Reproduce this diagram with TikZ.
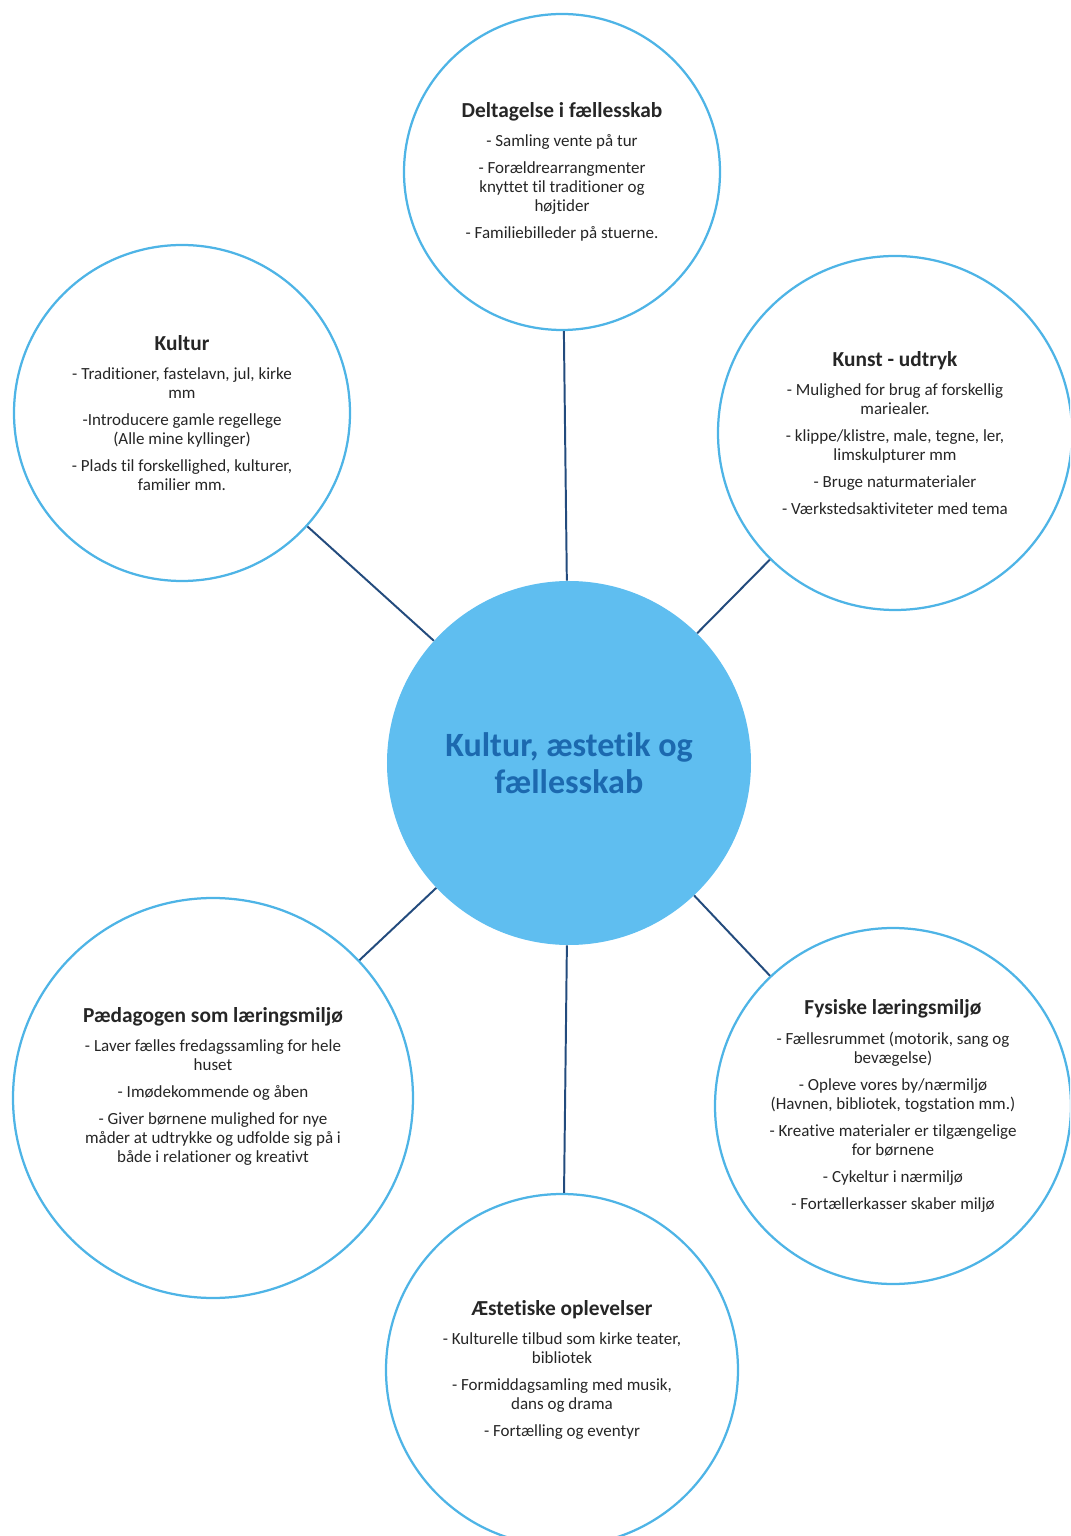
\documentclass[tikz,border=0pt]{standalone}
\usepackage{fontspec}
\setmainfont{Carlito}[Ligatures=CommonOff]
\definecolor{ringblue}{RGB}{78,180,230}
\definecolor{hubblue}{RGB}{95,190,240}
\definecolor{hubtext}{RGB}{28,105,175}
\definecolor{linkblue}{RGB}{35,75,125}
\newcommand{\ttl}[1]{{\bfseries\fontsize{15.2}{13.5}\selectfont #1}\\[7.5pt]}
\tikzset{
  topic/.style={circle,draw=ringblue,line width=1.6pt,fill=white,align=center,
    inner sep=0pt,text=black!85,font=\fontsize{12.1}{13.5}\selectfont},
  hub/.style={circle,fill=hubblue,text=hubtext,align=center,inner sep=0pt,
    minimum size=9.1cm,font=\bfseries\fontsize{24.2}{26.3}\selectfont},
  link/.style={draw=linkblue,line width=1.4pt}
}
\begin{document}
\begin{tikzpicture}
\useasboundingbox (-14.225,-19.325) rectangle (12.525,19.075);
\clip (-14.225,-19.325) rectangle (12.525,19.075);
\path
    (0,0) node [hub] (hub) {Kultur, æstetik og\\fællesskab}
    +(-0.175,14.775) node [topic,minimum size=7.9cm] (deltagelse)
        {\ttl{Deltagelse i fællesskab}
         - Samling vente på tur\\[5.7pt]
         - Forældrearrangmenter\\knyttet til traditioner og\\højtider\\[5.7pt]
         - Familiebilleder på stuerne.}
    +(-9.675,8.75) node [topic,minimum size=8.4cm] (kultur)
        {\ttl{Kultur}
         - Traditioner, fastelavn, jul, kirke\\mm\\[5.7pt]
         -Introducere gamle regellege\\(Alle mine kyllinger)\\[5.7pt]
         - Plads til forskellighed, kulturer,\\familier mm.}
    +(8.15,8.25) node [topic,minimum size=8.85cm] (kunst)
        {\ttl{Kunst - udtryk}
         - Mulighed for brug af forskellig\\mariealer.\\[5.7pt]
         - klippe/klistre, male, tegne, ler,\\limskulpturer mm\\[5.7pt]
         - Bruge naturmaterialer\\[5.7pt]
         - Værkstedsaktiviteter med tema}
    +(-8.9,-8.375) node [topic,minimum size=10cm] (paedagog)
        {\ttl{Pædagogen som læringsmiljø}
         - Laver fælles fredagssamling for hele\\huset\\[5.7pt]
         - Imødekommende og åben\\[5.7pt]
         - Giver børnene mulighed for nye\\måder at udtrykke og udfolde sig på i\\både i relationer og kreativt\\[5pt]}
    +(8.1,-8.575) node [topic,minimum size=8.9cm] (fysisk)
        {\ttl{Fysiske læringsmiljø}
         - Fællesrummet (motorik, sang og\\bevægelse)\\[5.7pt]
         - Opleve vores by/nærmiljø\\(Havnen, bibliotek, togstation mm.)\\[5.7pt]
         - Kreative materialer er tilgængelige\\for børnene\\[5.7pt]
         - Cykeltur i nærmiljø\\[5.7pt]
         - Fortællerkasser skaber miljø}
    +(-0.175,-15.175) node [topic,minimum size=8.8cm] (aestetik)
        {\ttl{Æstetiske oplevelser}
         - Kulturelle tilbud som kirke teater,\\bibliotek\\[5.7pt]
         - Formiddagsamling med musik,\\dans og drama\\[5.7pt]
         - Fortælling og eventyr};
\draw (hub) [link] -- (deltagelse);
\draw (hub) [link] -- (kultur);
\draw (hub) [link] -- (kunst);
\draw (hub) [link] -- (paedagog);
\draw (hub) [link] -- (fysisk);
\draw (hub) [link] -- (aestetik);
\end{tikzpicture}
\end{document}
